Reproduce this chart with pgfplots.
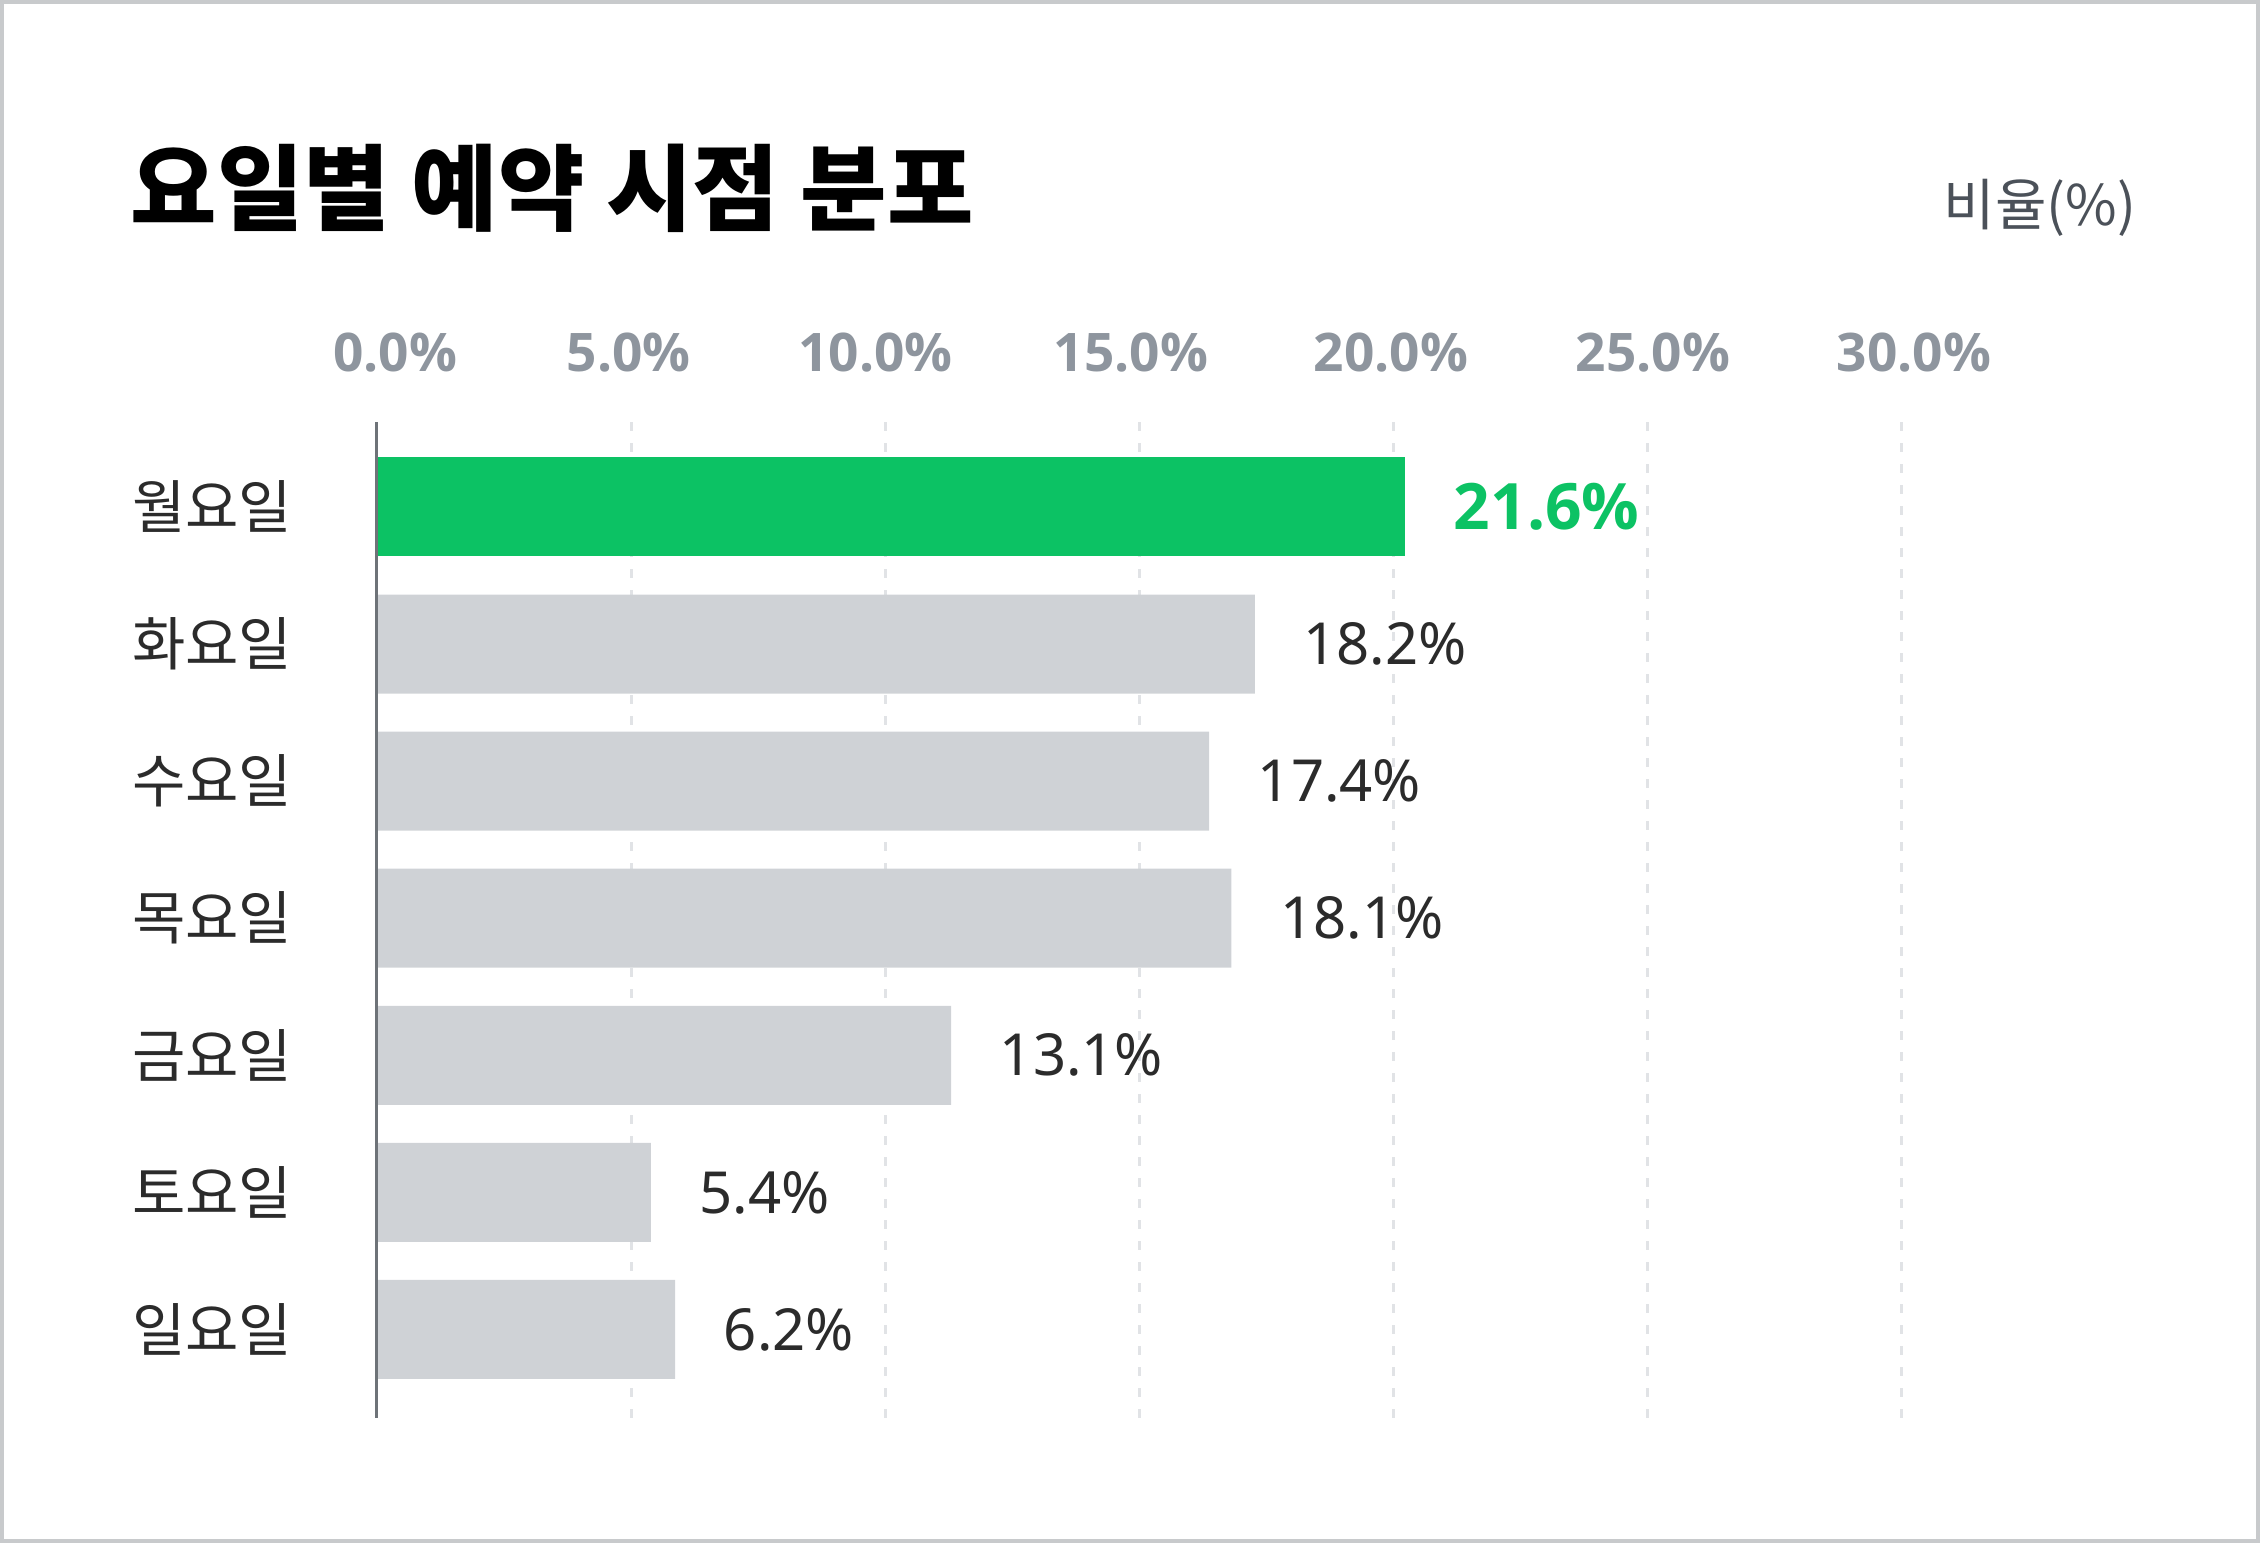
\documentclass[border=0pt]{standalone}
\usepackage{fontspec}
\usepackage{pgfplots}
\pgfplotsset{compat=1.18}
\setmainfont{Noto Sans CJK KR}
\newfontfamily\numfont{Noto Sans}
\newfontfamily\numbold{Open Sans}
\definecolor{barGreen}{HTML}{0CC264}
\definecolor{barGray}{HTML}{CFD2D6}
\definecolor{tickGray}{HTML}{8E959E}
\definecolor{txtDark}{HTML}{2B2B2B}
\definecolor{unitGray}{HTML}{4B5159}
\definecolor{axisGray}{HTML}{6E7378}
\definecolor{gridGray}{HTML}{E1E3E6}
\definecolor{frameGray}{HTML}{C8CACC}
\begin{document}
\begin{tikzpicture}
\path[use as bounding box] (0,0) rectangle (565pt,385.75pt);
\draw[frameGray, line width=1pt] (0.5pt,0.5pt) rectangle (564.5pt,385.25pt);
\node[anchor=west, inner sep=0pt, font=\fontsize{23.5}{27}\selectfont\bfseries, text=black] at (32.5pt,338.75pt) {요일별 예약 시점 분포};
\node[anchor=east, inner sep=0pt, font=\fontsize{14}{16}\selectfont, text=unitGray] at (534.25pt,333.75pt) {비율(\%)};
\begin{axis}[
  at={(94.25pt,31.25pt)}, anchor=south west,
  scale only axis, width=381pt, height=249pt,
  xmin=0, xmax=30, ymin=-0.6456, ymax=6.62,
  clip=false,
  axis line style={draw=none},
  xtick={0,5,10,15,20,25,30},
  xticklabels={\hspace*{9pt}0.0\%,\hspace*{-1.2pt}5.0\%,\hspace*{-4.8pt}10.0\%,\hspace*{-4pt}15.0\%,\hspace*{-1pt}20.0\%,\hspace*{3pt}25.0\%,\hspace*{6.5pt}30.0\%},
  xticklabel pos=upper,
  xticklabel style={font=\numbold\bfseries\fontsize{13.3}{15}\selectfont, text=tickGray, anchor=base, inner sep=0pt, yshift=12.5pt},
  ytick={0,1,2,3,4,5,6},
  yticklabels={일요일,토요일,금요일,목요일,수요일,화요일,월요일},
  yticklabel style={font=\fontsize{14.5}{16}\selectfont, text=txtDark, anchor=east, inner sep=0pt, xshift=-21pt},
  major tick length=0pt,
  xmajorgrids,
  grid style={gridGray, line width=0.75pt, dash pattern=on 2.25pt off 3pt},
  xbar, bar width=24.75pt, bar shift=0pt,
  point meta=explicit symbolic,
  nodes near coords={\pgfplotspointmeta},
  nodes near coords style={anchor=west, inner sep=0pt, xshift=12pt},
]
\addplot[draw=none, fill=barGray, nodes near coords style={font=\numfont\fontsize{14.5}{16}\selectfont, text=txtDark}] coordinates {
  (17.28,5) [18.2\%]
  (16.38,4) [17.4\%]
  (16.82,3) [18.1\%]
  (11.30,2) [13.1\%]
  (5.39,1) [5.4\%]
  (5.87,0) [6.2\%]
};
\addplot[draw=none, fill=barGreen, nodes near coords style={font=\numbold\bfseries\fontsize{16}{18}\selectfont, text=barGreen}] coordinates {
  (20.24,6) [21.6\%]
};
\draw[axisGray, line width=0.75pt] (axis cs:0,-0.6456) -- (axis cs:0,6.62);
\end{axis}
\end{tikzpicture}
\end{document}
